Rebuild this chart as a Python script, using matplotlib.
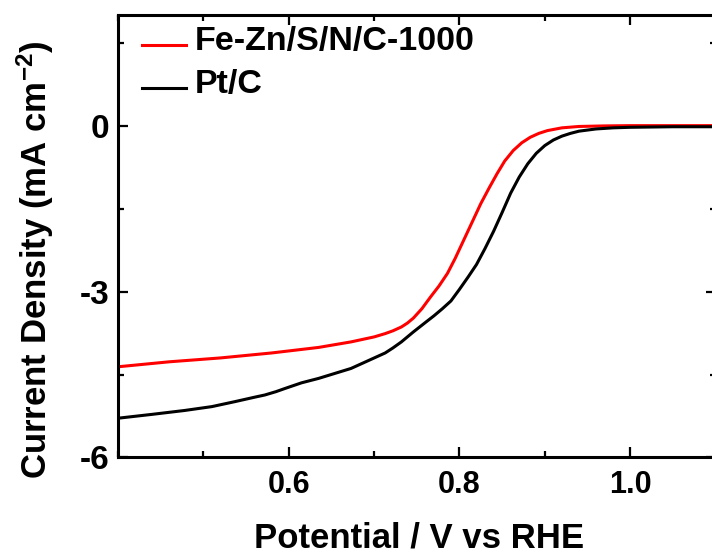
import numpy as np
import matplotlib
matplotlib.use("Agg")
import matplotlib.pyplot as plt
from matplotlib.ticker import MultipleLocator
from matplotlib.legend_handler import HandlerLine2D
from matplotlib.lines import Line2D

# Linear sweep voltammetry (ORR) curves
potential_fezn = [0.40, 0.46, 0.52, 0.58, 0.635, 0.673, 0.70, 0.713, 0.722,
                  0.732, 0.739, 0.746, 0.756, 0.766, 0.776, 0.786, 0.795, 0.805,
                  0.815, 0.825, 0.835, 0.844, 0.853, 0.863, 0.873, 0.883, 0.893,
                  0.903, 0.92, 0.94, 0.97, 1.00, 1.10]
current_fezn = [-4.36, -4.27, -4.20, -4.11, -4.01, -3.91, -3.82, -3.76, -3.71,
                -3.64, -3.57, -3.48, -3.31, -3.10, -2.90, -2.67, -2.40, -2.07,
                -1.74, -1.41, -1.12, -0.87, -0.64, -0.45, -0.31, -0.21, -0.14,
                -0.09, -0.04, -0.015, -0.005, 0.0, 0.0]

potential_ptc = [0.40, 0.44, 0.478, 0.51, 0.537, 0.56, 0.572, 0.585, 0.596,
                 0.615, 0.635, 0.654, 0.673, 0.693, 0.713, 0.722, 0.732, 0.746,
                 0.76, 0.77, 0.78, 0.79, 0.80, 0.81, 0.82, 0.83, 0.84, 0.85, 0.86,
                 0.87, 0.88, 0.89, 0.90, 0.91, 0.92, 0.93, 0.94, 0.96, 0.98,
                 1.00, 1.05, 1.10]
current_ptc = [-5.29, -5.22, -5.15, -5.08, -4.99, -4.91, -4.87, -4.81, -4.75,
               -4.65, -4.57, -4.48, -4.39, -4.25, -4.11, -4.02, -3.91, -3.73,
               -3.56, -3.44, -3.31, -3.17, -2.96, -2.74, -2.51, -2.22, -1.91,
               -1.57, -1.22, -0.93, -0.69, -0.50, -0.36, -0.26, -0.19, -0.14,
               -0.10, -0.06, -0.04, -0.03, -0.02, -0.02]

series_labels = ["Fe-Zn/S/N/C-1000", "Pt/C"]
series_colors = ["#ff0000", "#000000"]
x_ticks = [0.6, 0.8, 1.0]
x_tick_labels = ["0.6", "0.8", "1.0"]
y_ticks = [0, -3, -6]
y_tick_labels = ["0", "-3", "-6"]

plt.rcParams['font.family'] = ['Liberation Sans', 'DejaVu Sans']
plt.rcParams['font.weight'] = 'bold'
plt.rcParams['mathtext.fontset'] = 'custom'
plt.rcParams['mathtext.rm'] = 'Liberation Sans:bold'
plt.rcParams['mathtext.default'] = 'rm'


class LoweredLine(HandlerLine2D):
    """Legend line drawn a little below the label's centre."""

    def __init__(self, drop=5.0, **kw):
        super().__init__(**kw)
        self.drop = drop

    def create_artists(self, legend, orig_handle, xdescent, ydescent,
                       width, height, fontsize, trans):
        arts = super().create_artists(legend, orig_handle, xdescent, ydescent,
                                      width, height, fontsize, trans)
        for a in arts:
            a.set_ydata(np.asarray(a.get_ydata(), dtype=float) - self.drop)
        return arts


fig = plt.figure(figsize=(7.12, 5.54), dpi=100)
ax = fig.add_axes([0.1657, 0.1742, 0.8393, 0.7987])

ax.plot(potential_fezn, current_fezn, color=series_colors[0], lw=2.2,
        label=series_labels[0])
ax.plot(potential_ptc, current_ptc, color=series_colors[1], lw=2.2,
        label=series_labels[1])

ax.set_xlim(0.4, 1.1)
ax.set_ylim(-6, 2)
ax.xaxis.set_minor_locator(MultipleLocator(0.1))
ax.yaxis.set_minor_locator(MultipleLocator(1.5))
ax.set_xticks(x_ticks)
ax.set_xticklabels(x_tick_labels)
ax.set_yticks(y_ticks)
ax.set_yticklabels(y_tick_labels)

for s in ax.spines.values():
    s.set_linewidth(2.2)
ax.tick_params(which='both', direction='in', top=True, right=True, width=1.6)
ax.tick_params(which='major', length=7)
ax.tick_params(which='minor', length=4)
ax.tick_params(axis='x', which='major', labelsize=22, pad=9)
ax.tick_params(axis='y', which='major', labelsize=24, pad=6)

ax.set_xlabel("Potential / V vs RHE", fontsize=25, fontweight='bold')
ax.xaxis.label.set_va('baseline')
ax.xaxis.set_label_coords(0.504, -0.203)
ax.set_ylabel(r"Current Density (mA cm$^{-2}$)", fontsize=25, fontweight='bold')
ax.yaxis.label.set_va('center')
ax.yaxis.set_label_coords(-0.139, 0.446)

leg = ax.legend(loc='upper left', bbox_to_anchor=(0.040, 0.975), frameon=False,
                fontsize=24.5, handlelength=1.3, handletextpad=0.26,
                borderpad=0, borderaxespad=0, labelspacing=0.36,
                handler_map={Line2D: LoweredLine(drop=5.0)})
for t in leg.get_texts():
    t.set_fontweight('bold')
for h in leg.legend_handles:
    h.set_linewidth(2.2)

fig.savefig("out.png", dpi=100)
